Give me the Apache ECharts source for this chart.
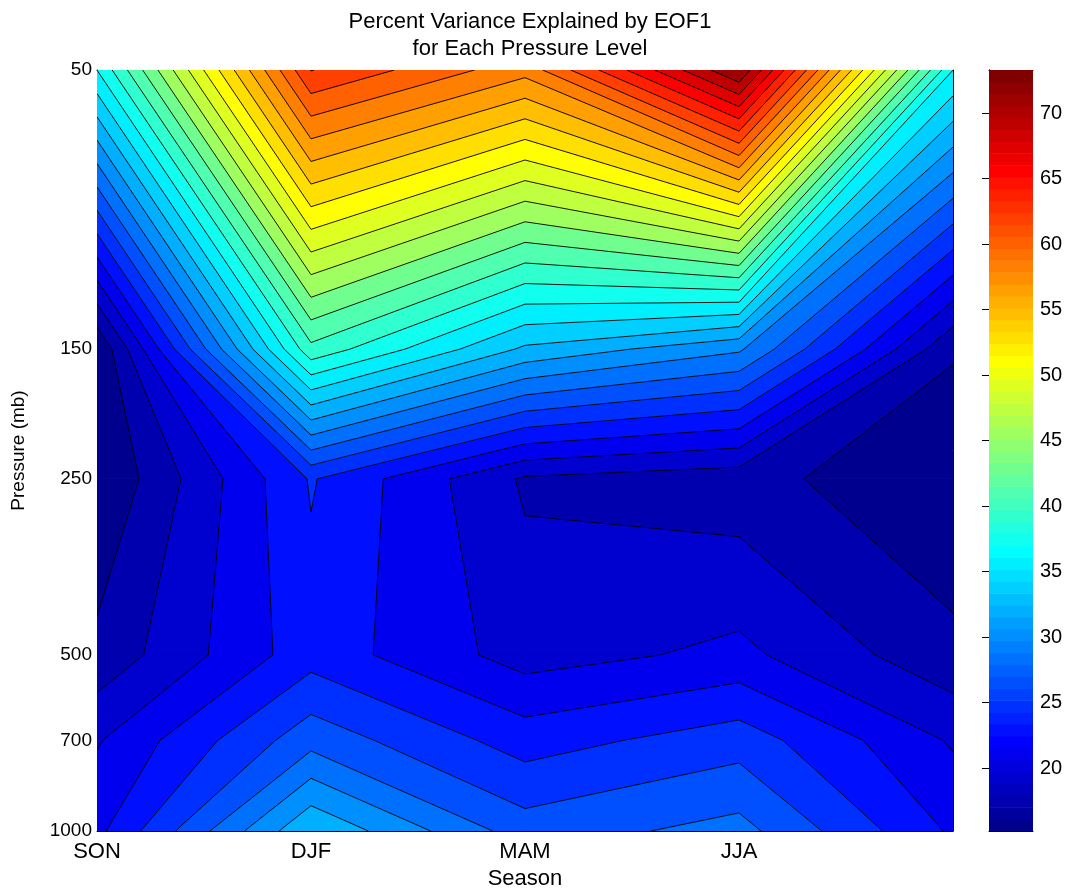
<!DOCTYPE html>
<html><head><meta charset="utf-8">
<script src="https://cdn.jsdelivr.net/npm/echarts@6/dist/echarts.min.js"></script>
<style>html,body{margin:0;padding:0;background:#fff}#c{width:1070px;height:890px}</style>
</head><body><div id="c"></div>
<script>
// ---- data ----
const seasons = ['SON', 'DJF', 'MAM', 'JJA', ''];
const seasonPos = [1, 2, 3, 4, 5];
const pressureLevels = [50, 150, 250, 500, 700, 1000];
const pressureTicks = [50, 150, 250, 500, 700, 1000];
// percent variance at each pressure level, columns = seasonPos
const pv50   = [37.7, 64.0, 59.0, 73.3, 37.7];
const pv150  = [15.3, 40.9, 33.6, 30.5, 17.3];
const pv250  = [15.2, 24.75, 18.67, 17.8, 15.4];
const pv500  = [17.6, 23.8, 20.0, 21.3, 17.6];
const pv700  = [20.65, 27.6, 23.7, 25.6, 20.6];
const pv1000 = [22.2, 33.8, 27.35, 29.0, 22.4];
const colorbarTicks = [20, 25, 30, 35, 40, 45, 50, 55, 60, 65, 70];
const nLevels = 30;

// ---- derived ----
const Z = [pv50, pv150, pv250, pv500, pv700, pv1000];
const nRows = Z.length, nCols = seasonPos.length;
let zmin = Infinity, zmax = -Infinity;
Z.forEach(r => r.forEach(v => { zmin = Math.min(zmin, v); zmax = Math.max(zmax, v); }));
const levels = [];
for (let k = 1; k <= nLevels; k++) levels.push(zmin + k * (zmax - zmin) / (nLevels + 1));
const layerVals = [zmin].concat(levels);

function jet(i) {
  const n = i + 1; let r, g, b;
  if (n <= 8) { r = 0; g = 0; b = 0.5 + n / 16; }
  else if (n <= 24) { r = 0; g = (n - 8) / 16; b = 1; }
  else if (n <= 40) { r = (n - 24) / 16; g = 1; b = 1 - (n - 24) / 16; }
  else if (n <= 56) { r = 1; g = 1 - (n - 40) / 16; b = 0; }
  else { r = 1 - (n - 56) / 16; g = 0; b = 0; }
  return 'rgb(' + Math.round(r * 255) + ',' + Math.round(g * 255) + ',' + Math.round(b * 255) + ')';
}
function colorFor(v) {
  let i = Math.floor((v - zmin) / (zmax - zmin) * 64 + 1e-9);
  i = Math.max(0, Math.min(63, i));
  return jet(i);
}
const logP = p => Math.log10(p);
function node(c, r) { return { x: seasonPos[c], y: logP(pressureLevels[r]), v: Z[r][c] }; }
function clip(poly, L) {
  const out = [];
  for (let i = 0; i < poly.length; i++) {
    const a = poly[i], b = poly[(i + 1) % poly.length];
    const ain = a.v >= L, bin = b.v >= L;
    if (ain) out.push(a);
    if (ain !== bin) {
      const t = (L - a.v) / (b.v - a.v);
      out.push({ x: a.x + t * (b.x - a.x), y: a.y + t * (b.y - a.y), v: L });
    }
  }
  return out;
}
// one item per cell (lines) and per cell+layer (fills, painted layer by layer)
const cells = [];
for (let r = 0; r < nRows - 1; r++)
  for (let c = 0; c < nCols - 1; c++)
    cells.push([seasonPos[c], logP(pressureLevels[r]), c, r]);
const fillItems = [];
for (let k = 0; k < layerVals.length; k++)
  cells.forEach(cell => fillItems.push(cell.concat([k])));

function renderFill(params, api) {
  const c = api.value(2), r = api.value(3), k = api.value(4);
  const quad = [node(c, r), node(c + 1, r), node(c + 1, r + 1), node(c, r + 1)];
  const L = layerVals[k];
  const poly = k === 0 ? quad : clip(quad, L);
  if (poly.length < 3) return null;
  const pts = poly.map(pt => api.coord([pt.x, pt.y]));
  const col = colorFor(L);
  return { type: 'polygon', silent: true, shape: { points: pts }, style: { fill: col, stroke: col, lineWidth: 1 } };
}
function renderLines(params, api) {
  const c = api.value(2), r = api.value(3);
  const q = [node(c, r), node(c + 1, r), node(c + 1, r + 1), node(c, r + 1)];
  const children = [];
  levels.forEach(L => {
    const pts = [];
    for (let e = 0; e < 4; e++) {
      const a = q[e], b = q[(e + 1) % 4];
      if ((a.v - L) * (b.v - L) < 0) {
        const t = (L - a.v) / (b.v - a.v);
        pts.push({ x: a.x + t * (b.x - a.x), y: a.y + t * (b.y - a.y) });
      }
    }
    let segs = [];
    if (pts.length === 2) segs = [[pts[0], pts[1]]];
    else if (pts.length === 4) {
      const center = (q[0].v + q[1].v + q[2].v + q[3].v) / 4;
      if ((center >= L) === (q[0].v >= L)) segs = [[pts[0], pts[1]], [pts[2], pts[3]]];
      else segs = [[pts[0], pts[3]], [pts[1], pts[2]]];
    }
    segs.forEach(([a, b]) => {
      const A = api.coord([a.x, a.y]), B = api.coord([b.x, b.y]);
      children.push({ type: 'line', silent: true, shape: { x1: A[0], y1: A[1], x2: B[0], y2: B[1] }, style: { stroke: '#000', lineWidth: 0.9 } });
    });
  });
  return { type: 'group', children };
}
const cbData = [];
for (let i = 0; i < 64; i++) cbData.push([0, zmin + i * (zmax - zmin) / 64, zmin + (i + 1) * (zmax - zmin) / 64, i]);
function renderBar(params, api) {
  const lo = api.value(1), hi = api.value(2), i = api.value(3);
  const A = api.coord([0, lo]), B = api.coord([1, hi]);
  return { type: 'rect', silent: true, shape: { x: A[0], y: B[1], width: B[0] - A[0], height: A[1] - B[1] + 0.6 }, style: { fill: jet(i) } };
}

const FF = '"Liberation Sans", Arial, Helvetica, sans-serif';
const txt = s => ({ color: '#000', fontFamily: FF, fontSize: s });
const line = { show: true, lineStyle: { color: '#000', width: 1 } };
const logTicks = pressureTicks.map(logP);

const option = {
  animation: false,
  backgroundColor: '#fff',
  title: {
    text: 'Percent Variance Explained by EOF1\nfor Each Pressure Level',
    left: 525, top: 3, textAlign: 'center',
    textStyle: { color: '#000', fontFamily: FF, fontSize: 22, fontWeight: 'normal', lineHeight: 27 }
  },
  grid: [
    { left: 97, right: 117, top: 70, bottom: 59, outerBoundsMode: 'none', containLabel: false },
    { left: 989, right: 37, top: 70, bottom: 59, outerBoundsMode: 'none', containLabel: false }
  ],
  xAxis: [
    { type: 'value', gridIndex: 0, min: 1, max: 5, interval: 1, position: 'bottom',
      axisLine: line, axisTick: { show: true, inside: true, length: 9, lineStyle: { color: '#000' } },
      axisLabel: Object.assign({ margin: 10, showMinLabel: true, showMaxLabel: true, formatter: v => seasons[Math.round(v) - 1] || '' }, txt(22)),
      splitLine: { show: false },
      name: 'Season', nameLocation: 'middle', nameGap: 35, nameTextStyle: txt(22) },
    { type: 'value', gridIndex: 0, min: 1, max: 5, interval: 1, position: 'top',
      axisLine: line, axisTick: { show: true, inside: true, length: 9, lineStyle: { color: '#000' } },
      axisLabel: { show: false }, splitLine: { show: false } },
    { type: 'value', gridIndex: 1, min: 0, max: 1, position: 'bottom', axisLine: line,
      axisTick: { show: false }, axisLabel: { show: false }, splitLine: { show: false } },
    { type: 'value', gridIndex: 1, min: 0, max: 1, position: 'top', axisLine: line,
      axisTick: { show: false }, axisLabel: { show: false }, splitLine: { show: false } }
  ],
  yAxis: [
    { type: 'value', gridIndex: 0, min: logP(50), max: logP(1000), inverse: true, position: 'left',
      axisLine: line,
      axisTick: { show: true, inside: true, length: 9, customValues: logTicks, lineStyle: { color: '#000' } },
      axisLabel: Object.assign({ margin: 5, customValues: logTicks, formatter: v => String(Math.round(Math.pow(10, v))) }, txt(19)),
      splitLine: { show: false },
      name: 'Pressure (mb)', nameLocation: 'middle', nameGap: 69, nameTextStyle: txt(19) },
    { type: 'value', gridIndex: 0, min: logP(50), max: logP(1000), inverse: true, position: 'right',
      axisLine: line,
      axisTick: { show: true, inside: true, length: 9, customValues: logTicks, lineStyle: { color: '#000' } },
      axisLabel: { show: false }, splitLine: { show: false } },
    { type: 'value', gridIndex: 1, min: zmin, max: zmax, position: 'right', axisLine: line,
      axisTick: { show: true, inside: true, length: 7, customValues: colorbarTicks, lineStyle: { color: '#000' } },
      axisLabel: Object.assign({ margin: 7, customValues: colorbarTicks }, txt(20)), splitLine: { show: false } },
    { type: 'value', gridIndex: 1, min: zmin, max: zmax, position: 'left', axisLine: line,
      axisTick: { show: true, inside: true, length: 7, customValues: colorbarTicks, lineStyle: { color: '#000' } },
      axisLabel: { show: false }, splitLine: { show: false } }
  ],
  series: [
    { type: 'custom', name: 'fill', xAxisIndex: 0, yAxisIndex: 0, data: fillItems, encode: { x: 0, y: 1 },
      renderItem: renderFill, clip: true, z: 1, silent: true },
    { type: 'custom', name: 'contours', xAxisIndex: 0, yAxisIndex: 0, data: cells, encode: { x: 0, y: 1 },
      renderItem: renderLines, clip: true, z: 2, silent: true },
    { type: 'custom', name: 'colorbar', xAxisIndex: 2, yAxisIndex: 2, data: cbData, encode: { x: 0, y: 1 },
      renderItem: renderBar, z: 1, silent: true }
  ]
};
const chart = echarts.init(document.getElementById('c'));
chart.setOption(option);
</script></body></html>
